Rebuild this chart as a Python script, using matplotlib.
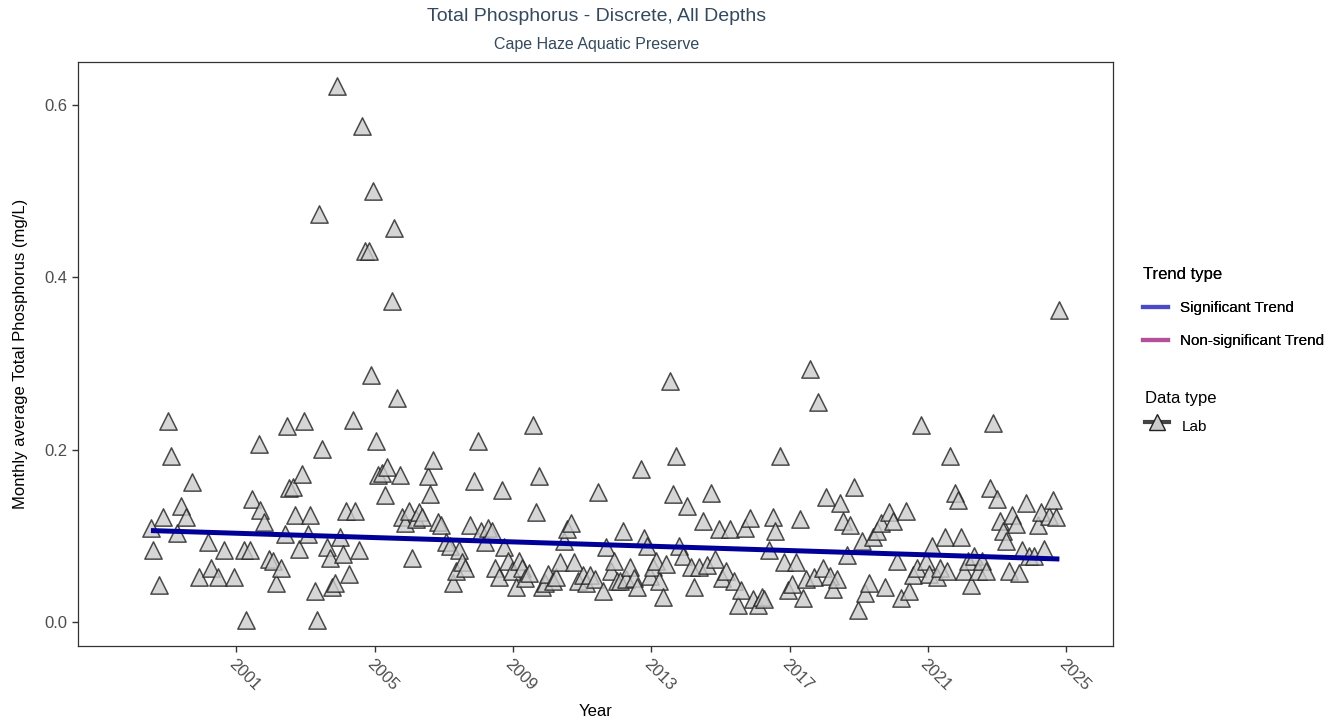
import numpy as np
import matplotlib
matplotlib.use('Agg')
import matplotlib.pyplot as plt
from matplotlib.lines import Line2D

plt.rcParams['font.family'] = ['Liberation Sans', 'DejaVu Sans']

# Monthly average TP, decimal year / mg/L
years = [
    1998.53, 1998.59, 1998.76, 1998.88, 1999.02, 1999.11, 1999.28, 1999.40, 1999.55, 1999.72,
    1999.92, 2000.19, 2000.27, 2000.48, 2000.65, 2000.94, 2001.23, 2001.29, 2001.38, 2001.44,
    2001.64, 2001.67, 2001.81, 2001.93, 2002.05, 2002.16, 2002.28, 2002.40, 2002.45, 2002.51,
    2002.63, 2002.69, 2002.80, 2002.89, 2002.95, 2003.07, 2003.12, 2003.27, 2003.33, 2003.39,
    2003.47, 2003.62, 2003.71, 2003.76, 2003.85, 2003.91, 2004.00, 2004.08, 2004.17, 2004.26,
    2004.37, 2004.43, 2004.55, 2004.64, 2004.72, 2004.84, 2004.90, 2004.96, 2005.04, 2005.10,
    2005.22, 2005.31, 2005.36, 2005.51, 2005.57, 2005.65, 2005.74, 2005.80, 2005.89, 2006.00,
    2006.09, 2006.18, 2006.29, 2006.38, 2006.53, 2006.61, 2006.70, 2006.82, 2006.91, 2007.05,
    2007.17, 2007.25, 2007.34, 2007.43, 2007.52, 2007.60, 2007.75, 2007.87, 2007.98, 2008.07,
    2008.19, 2008.27, 2008.39, 2008.48, 2008.59, 2008.68, 2008.74, 2008.85, 2008.97, 2009.09,
    2009.17, 2009.26, 2009.35, 2009.47, 2009.58, 2009.67, 2009.76, 2009.84, 2009.93, 2010.02,
    2010.16, 2010.25, 2010.37, 2010.48, 2010.57, 2010.69, 2010.77, 2010.89, 2011.01, 2011.12,
    2011.24, 2011.36, 2011.47, 2011.59, 2011.68, 2011.82, 2011.91, 2012.00, 2012.08, 2012.17,
    2012.26, 2012.37, 2012.49, 2012.58, 2012.69, 2012.78, 2012.87, 2012.96, 2013.04, 2013.13,
    2013.22, 2013.33, 2013.42, 2013.54, 2013.63, 2013.71, 2013.80, 2013.92, 2014.03, 2014.15,
    2014.24, 2014.38, 2014.50, 2014.61, 2014.73, 2014.85, 2014.96, 2015.05, 2015.17, 2015.28,
    2015.40, 2015.52, 2015.60, 2015.72, 2015.84, 2015.95, 2016.07, 2016.19, 2016.27, 2016.39,
    2016.51, 2016.59, 2016.71, 2016.83, 2016.94, 2017.06, 2017.17, 2017.29, 2017.38, 2017.47,
    2017.58, 2017.70, 2017.81, 2017.96, 2018.05, 2018.16, 2018.25, 2018.37, 2018.45, 2018.54,
    2018.66, 2018.75, 2018.86, 2018.98, 2019.09, 2019.18, 2019.30, 2019.41, 2019.53, 2019.65,
    2019.76, 2019.88, 2020.00, 2020.11, 2020.23, 2020.35, 2020.46, 2020.58, 2020.69, 2020.81,
    2020.93, 2021.04, 2021.13, 2021.25, 2021.36, 2021.48, 2021.54, 2021.65, 2021.77, 2021.86,
    2021.95, 2022.03, 2022.15, 2022.24, 2022.32, 2022.44, 2022.56, 2022.67, 2022.79, 2022.88,
    2022.99, 2023.08, 2023.17, 2023.25, 2023.34, 2023.43, 2023.55, 2023.63, 2023.72, 2023.84,
    2023.92, 2024.07, 2024.19, 2024.27, 2024.36, 2024.51, 2024.62, 2024.71, 2024.80,
]
tp = [
    0.109, 0.083, 0.043, 0.122, 0.233, 0.193, 0.103, 0.134, 0.122, 0.162,
    0.052, 0.093, 0.063, 0.052, 0.083, 0.052, 0.084, 0.002, 0.084, 0.143,
    0.206, 0.130, 0.116, 0.073, 0.071, 0.045, 0.063, 0.102, 0.227, 0.155,
    0.157, 0.124, 0.085, 0.172, 0.233, 0.102, 0.124, 0.036, 0.002, 0.474,
    0.201, 0.087, 0.074, 0.041, 0.045, 0.622, 0.098, 0.079, 0.129, 0.056,
    0.234, 0.129, 0.084, 0.576, 0.431, 0.431, 0.287, 0.500, 0.210, 0.171,
    0.173, 0.147, 0.180, 0.373, 0.457, 0.260, 0.170, 0.122, 0.115, 0.129,
    0.074, 0.119, 0.127, 0.122, 0.169, 0.149, 0.188, 0.116, 0.113, 0.093,
    0.088, 0.045, 0.059, 0.083, 0.069, 0.062, 0.113, 0.163, 0.210, 0.106,
    0.093, 0.109, 0.106, 0.063, 0.052, 0.153, 0.087, 0.071, 0.059, 0.041,
    0.071, 0.062, 0.051, 0.057, 0.228, 0.127, 0.169, 0.041, 0.045, 0.056,
    0.048, 0.052, 0.069, 0.094, 0.108, 0.115, 0.069, 0.048, 0.055, 0.045,
    0.055, 0.050, 0.151, 0.036, 0.087, 0.059, 0.071, 0.047, 0.048, 0.106,
    0.050, 0.064, 0.051, 0.041, 0.178, 0.097, 0.088, 0.053, 0.064, 0.071,
    0.048, 0.029, 0.067, 0.280, 0.149, 0.193, 0.088, 0.076, 0.134, 0.064,
    0.040, 0.064, 0.117, 0.066, 0.150, 0.073, 0.108, 0.051, 0.059, 0.108,
    0.047, 0.020, 0.037, 0.109, 0.121, 0.027, 0.020, 0.029, 0.027, 0.083,
    0.122, 0.106, 0.193, 0.070, 0.037, 0.044, 0.070, 0.119, 0.028, 0.050,
    0.294, 0.052, 0.255, 0.062, 0.145, 0.053, 0.038, 0.050, 0.138, 0.117,
    0.078, 0.113, 0.157, 0.014, 0.094, 0.034, 0.045, 0.099, 0.106, 0.115,
    0.041, 0.128, 0.117, 0.071, 0.028, 0.129, 0.036, 0.055, 0.062, 0.228,
    0.071, 0.056, 0.088, 0.052, 0.062, 0.099, 0.059, 0.192, 0.150, 0.141,
    0.098, 0.059, 0.071, 0.043, 0.077, 0.059, 0.071, 0.059, 0.156, 0.231,
    0.143, 0.117, 0.106, 0.094, 0.059, 0.124, 0.114, 0.057, 0.083, 0.138,
    0.077, 0.077, 0.112, 0.127, 0.085, 0.123, 0.142, 0.122, 0.362,
]

# Seasonal Kendall trend line end points (mg/L)
trend_years = [1998.53, 2024.80]
trend_vals = [0.106, 0.073]

fig = plt.figure(figsize=(13.4, 7.23), dpi=100)
ax = fig.add_axes([0.0582, 0.1065, 0.7724, 0.8078])

ax.scatter(years, tp, marker='^', s=155, facecolor='#cccccc', alpha=0.8,
           edgecolor='#222222', linewidths=1.1, zorder=2)
ax.plot(trend_years, trend_vals, color='#000099', lw=3.6, zorder=3,
        solid_capstyle='butt')

ax.set_xlim(1996.42, 2026.35)
ax.set_ylim(-0.028, 0.65)
ax.set_xticks(range(2001, 2026, 4))
ax.set_xticklabels([str(y) for y in range(2001, 2026, 4)], rotation=-45,
                   ha='left', va='top', rotation_mode='anchor')
ax.set_yticks([0.0, 0.2, 0.4, 0.6])
ax.set_yticklabels(['0.0', '0.2', '0.4', '0.6'])
ax.tick_params(axis='both', labelsize=12, labelcolor='#4d4d4d', color='#333333',
               length=4, width=1)
for sp in ax.spines.values():
    sp.set_color('#333333')
    sp.set_linewidth(0.9)

ax.set_xlabel('Year', fontsize=12, labelpad=8)
ax.set_ylabel('Monthly average Total Phosphorus (mg/L)', fontsize=12, labelpad=12)

fig.text(0.4455, 0.977, 'Total Phosphorus - Discrete, All Depths', ha='center', va='center',
         fontsize=14, color='#34495e')
fig.text(0.4455, 0.939, 'Cape Haze Aquatic Preserve', ha='center', va='center',
         fontsize=11.5, color='#34495e')

trend_handles = [Line2D([], [], color='#4a4ac8', lw=3),
                 Line2D([], [], color='#b4509a', lw=3)]
leg1 = fig.legend(trend_handles, ['Significant Trend', 'Non-significant Trend'],
                  title='Trend type', loc='upper left', bbox_to_anchor=(0.843, 0.65),
                  frameon=False, fontsize=11, title_fontsize=12, handlelength=1.6,
                  labelspacing=1.25, alignment='left')
data_handle = Line2D([], [], color='#444444', lw=3, marker='^', markersize=12,
                     markerfacecolor='#cccccc', markeredgecolor='#222222')
leg2 = fig.legend([data_handle], ['Lab'], title='Data type', loc='upper left',
                  bbox_to_anchor=(0.843, 0.48), frameon=False, fontsize=11,
                  title_fontsize=12, handlelength=1.6, alignment='left', borderpad=0.5,
                  handleheight=2.0)
fig.add_artist(leg1)

fig.savefig('out.png', dpi=100)
